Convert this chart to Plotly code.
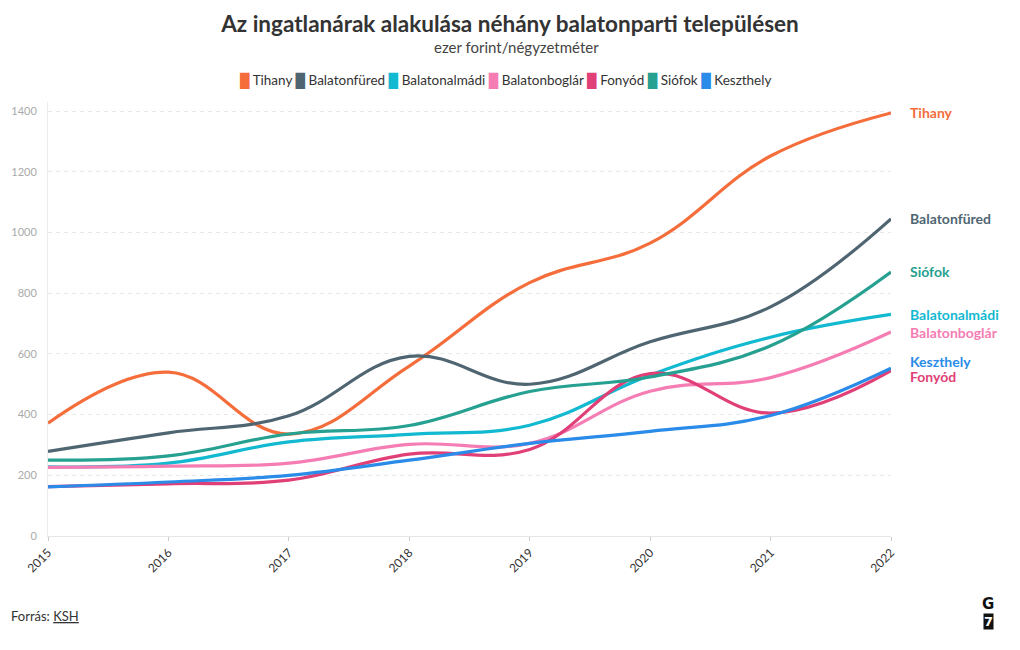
import plotly.graph_objects as go

years = [2015, 2016, 2017, 2018, 2019, 2020, 2021, 2022]

names = ["Tihany", "Balatonfüred", "Balatonalmádi", "Balatonboglár", "Fonyód", "Siófok", "Keszthely"]
colors = ["#f46d3b", "#4f6672", "#12b9d0", "#f57db3", "#e03f77", "#25a091", "#2a8be8"]

tihany = [372, 540, 336, 560, 835, 965, 1252, 1394]
balatonfured = [279, 340, 396, 592, 500, 640, 755, 1045]
balatonalmadi = [228, 240, 310, 335, 365, 530, 655, 730]
balatonboglar = [226, 230, 240, 302, 305, 477, 522, 672]
fonyod = [163, 172, 184, 270, 285, 535, 405, 545]
siofok = [250, 264, 336, 364, 476, 524, 627, 870]
keszthely = [162, 178, 200, 250, 305, 345, 397, 553]

series = [tihany, balatonfured, balatonalmadi, balatonboglar, fonyod, siofok, keszthely]

label_shift = {"Keszthely": 7, "Fonyód": -6}

FONT = "Lato, 'Noto Sans', sans-serif"

W, H = 1020, 650
M_L, M_R, M_T, M_B = 48, 129, 102, 113.5
PLOT_H = H - M_T - M_B


def py_to_paper(py):
    return (H - M_B - py) / PLOT_H


def px_to_paper(px):
    return (px - M_L) / (W - M_L - M_R)


fig = go.Figure()
for name, col, vals in zip(names, colors, series):
    fig.add_trace(go.Scatter(
        x=years, y=vals, name=name, mode="lines",
        line=dict(color=col, width=3.2, shape="spline", smoothing=1.15),
        showlegend=False, hoverinfo="skip",
    ))

annotations = []
shapes = []
x_end = years[-1]
for name, col, vals in zip(names, colors, series):
    ys = label_shift.get(name, 0)
    annotations.append(dict(
        x=x_end, y=vals[-1], xref="x", yref="y", text="<b>%s</b>" % name,
        showarrow=False, xanchor="left", yanchor="middle", xshift=17, yshift=ys,
        font=dict(family=FONT, size=14, color=col),
    ))
    shapes.append(dict(
        type="line", xref="x", yref="y", xsizemode="pixel", ysizemode="pixel",
        xanchor=x_end, yanchor=vals[-1], x0=12, x1=16, y0=0, y1=ys,
        line=dict(color="#999999", width=1),
    ))

legend_text = "&nbsp;".join(
    "<span style='color:%s'>█</span> %s" % (c, n) for n, c in zip(names, colors)
)
annotations.append(dict(
    x=px_to_paper(505), y=py_to_paper(81), xref="paper", yref="paper", text=legend_text,
    showarrow=False, xanchor="center", yanchor="middle",
    font=dict(family=FONT, size=13.5, color="#333333"),
))
annotations.append(dict(
    x=px_to_paper(516), y=py_to_paper(47), xref="paper", yref="paper",
    text="ezer forint/négyzetméter", showarrow=False,
    xanchor="center", yanchor="middle",
    font=dict(family=FONT, size=15, color="#444444"),
))
annotations.append(dict(
    x=px_to_paper(9), y=py_to_paper(617), xref="paper", yref="paper",
    text="Forrás: <u>KSH</u>", showarrow=False, xanchor="left", yanchor="middle",
    font=dict(family=FONT, size=13, color="#333333"),
))
annotations.append(dict(
    x=px_to_paper(988), y=py_to_paper(605), xref="paper", yref="paper",
    text="<b>G</b>", showarrow=False, xanchor="center", yanchor="middle",
    font=dict(family="DejaVu Sans", size=15, color="#111111"),
))
annotations.append(dict(
    x=px_to_paper(988), y=py_to_paper(622), xref="paper", yref="paper",
    text="<b>7</b>", showarrow=False, xanchor="center", yanchor="middle",
    bgcolor="#111111", borderpad=0,
    font=dict(family="DejaVu Sans", size=13, color="#ffffff"),
))

fig.update_layout(
    width=W, height=H,
    paper_bgcolor="white", plot_bgcolor="white",
    margin=dict(l=M_L, r=M_R, t=M_T, b=M_B, autoexpand=False),
    title=dict(
        text="<b>Az ingatlanárak alakulása néhány balatonparti településen</b>",
        x=0.5, xanchor="center", y=1 - 24 / H, yanchor="middle", yref="container",
        font=dict(family=FONT, size=22.5, color="#333333"),
    ),
    font=dict(family=FONT),
    hovermode=False,
    annotations=annotations,
    shapes=shapes,
    xaxis=dict(
        range=[years[0], years[-1]], tickvals=years, ticktext=[str(y) for y in years],
        tickangle=-45, ticks="outside", ticklen=4, tickcolor="#cccccc",
        showgrid=False, showline=True, linecolor="#e6e6e6", zeroline=False,
        tickfont=dict(family=FONT, size=12, color="#333333"),
    ),
    yaxis=dict(
        range=[0, 1430], tickvals=[0, 200, 400, 600, 800, 1000, 1200, 1400],
        showgrid=True, gridcolor="#e8e8e8", griddash="4px,4px",
        showline=True, linecolor="#ececec", zeroline=False,
        ticks="", ticklabelstandoff=8,
        tickfont=dict(family=FONT, size=11, color="#aaaaaa"),
    ),
)

fig.write_html("out.html", config={"displayModeBar": False},
               post_script="document.body.style.margin='0px';")
